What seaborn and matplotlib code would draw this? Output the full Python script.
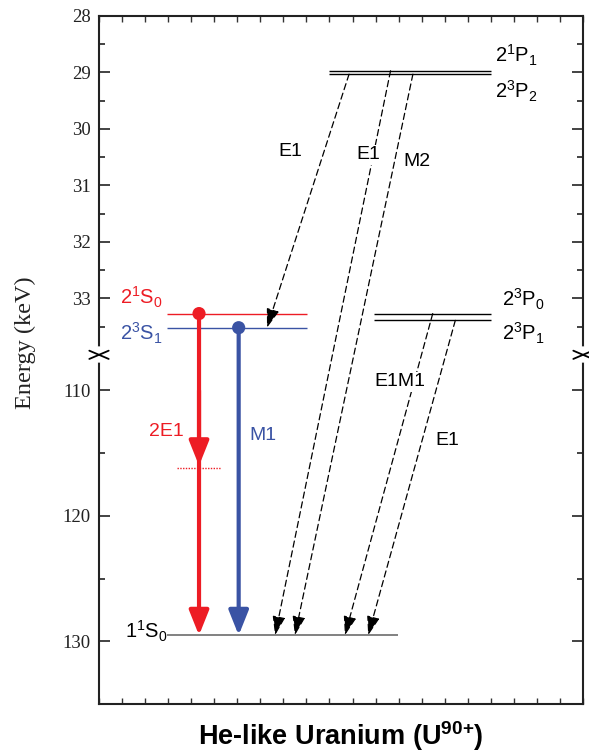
import numpy as np
import pandas as pd
import matplotlib
matplotlib.use("Agg")
import matplotlib.pyplot as plt
import seaborn as sns

# ---------------- data ----------------
level_names = ["1S0", "23S1", "21S0", "23P1", "23P0", "23P2", "21P1"]
level_labels = [r"1$^1$S$_0$", r"2$^3$S$_1$", r"2$^1$S$_0$", r"2$^3$P$_1$",
                r"2$^3$P$_0$", r"2$^3$P$_2$", r"2$^1$P$_1$"]
level_energy = [129.52, 33.52, 33.27, 33.39, 33.27, 29.03, 28.97]   # keV

trans_from = ["23P2", "21P1", "23P2", "23P0", "23P1"]
trans_to = ["23S1", "1S0", "1S0", "1S0", "1S0"]
trans_labels = ["E1", "E1", "M2", "E1M1", "E1"]

decay_from = ["21S0", "23S1"]
decay_labels = ["2E1", "M1"]
virtual_2e1 = 116.2

y_major = [28, 29, 30, 31, 32, 33, 110, 120, 130]
y_minor = [28.5, 29.5, 30.5, 31.5, 32.5, 33.5, 115, 125]

E = dict(zip(level_names, level_energy))
LBL = dict(zip(level_names, level_labels))

# ---------------- layout ----------------
RED = "#ED1C24"
BLUE = "#3A53A4"
level_x = {"1S0": (2.95, 12.97), "23S1": (2.95, 9.02), "21S0": (2.95, 9.02),
           "23P1": (11.93, 16.99), "23P0": (11.93, 16.99),
           "23P2": (9.98, 16.99), "21P1": (9.98, 16.99)}
level_col = {"1S0": "#777777", "23S1": BLUE, "21S0": RED,
             "23P1": "black", "23P0": "black", "23P2": "black", "21P1": "black"}
trans_x = [(10.85, 7.29), (12.65, 7.64), (13.62, 8.50), (14.48, 10.67), (15.46, 11.68)]
trans_lpos = [(8.29, 30.40), (11.67, 30.46), (13.80, 30.58), (13.06, 109.3), (15.10, 114.0)]
decay_x = [4.34, 6.06]
decay_col = [RED, BLUE]
decay_lpos = [(2.91, 113.3), (7.11, 113.6)]

# broken axis via a function scale
B1, B2, R, EPS = 34.0, 107.19, 0.2221, 1e-4
G = (B1 - 28) + (B2 - B1) * EPS


def fwd(y):
    y = np.asarray(y, float)
    return np.where(y <= B1, y - 28,
                    np.where(y >= B2, G + (y - B2) * R, (B1 - 28) + (y - B1) * EPS))


def inv(u):
    u = np.asarray(u, float)
    return np.where(u <= B1 - 28, u + 28,
                    np.where(u >= G, B2 + (u - G) / R, B1 + (u - (B1 - 28)) / EPS))


sns.set_theme(style="ticks")
plt.rcParams["font.family"] = ["Liberation Sans", "DejaVu Sans"]
plt.rcParams["mathtext.fontset"] = "custom"
plt.rcParams["mathtext.rm"] = "Liberation Sans"
plt.rcParams["mathtext.it"] = "Liberation Sans:italic"
plt.rcParams["mathtext.bf"] = "Liberation Sans:bold"
for k in ("text.color", "axes.labelcolor", "xtick.color", "ytick.color"):
    plt.rcParams[k] = "black"

fig = plt.figure(figsize=(5.89, 7.55), dpi=100)
ax = fig.add_axes([99 / 589, 1 - 704 / 755, 484 / 589, 688 / 755])
ax.set_yscale("function", functions=(fwd, inv))
ax.set_ylim(135, 28)
ax.set_xlim(0, 21)

# levels
for n in level_names:
    x0, x1 = level_x[n]
    lw = 1.3 if n in ("1S0",) else 1.0
    ax.hlines(E[n], x0, x1, color=level_col[n], lw=lw, zorder=2)

# red/blue decays
for n, x, c, lab, (lx, ly) in zip(decay_from, decay_x, decay_col, decay_labels, decay_lpos):
    ax.annotate("", xy=(x, E["1S0"]), xytext=(x, E[n]),
                arrowprops=dict(arrowstyle="-|>,head_length=0.75,head_width=0.3",
                                lw=3, color=c, shrinkA=0, shrinkB=0, mutation_scale=20),
                zorder=4)
    ax.text(lx, ly, lab, color=c, fontsize=14, ha="center", va="center")

# mid-arrow head and virtual level on 2E1
ax.annotate("", xy=(decay_x[0], virtual_2e1 - 0.2), xytext=(decay_x[0], 110),
            arrowprops=dict(arrowstyle="-|>,head_length=0.75,head_width=0.3",
                            lw=3, color=RED, shrinkA=0, shrinkB=0, mutation_scale=20),
            zorder=4)
ax.hlines(virtual_2e1, 3.38, 5.29, color=RED, lw=1, ls=(0, (1, 1)), zorder=3)

dots = pd.DataFrame({"x": decay_x, "E": [E[n] for n in decay_from], "lvl": decay_from})
sns.scatterplot(data=dots, x="x", y="E", hue="lvl", palette=decay_col, s=90,
                edgecolor="none", legend=False, ax=ax, zorder=5)

# dashed transitions
for f, t, (x0, x1), lab, (lx, ly) in zip(trans_from, trans_to, trans_x, trans_labels, trans_lpos):
    ax.annotate("", xy=(x1, E[t]), xytext=(x0, E[f]),
                arrowprops=dict(arrowstyle="-|>,head_length=0.9,head_width=0.3",
                                lw=0.9, ls=(0, (5, 3)), color="black",
                                shrinkA=0, shrinkB=0, mutation_scale=13),
                zorder=3)
    ax.text(lx, ly, lab, fontsize=14, ha="center", va="center", color="black",
            bbox=dict(facecolor="white", edgecolor="none", pad=1))

# level labels
ax.text(2.78, 32.98, LBL["21S0"], color=RED, fontsize=14.5, ha="right", va="center")
ax.text(2.78, 33.62, LBL["23S1"], color=BLUE, fontsize=14.5, ha="right", va="center")
ax.text(2.98, 129.2, LBL["1S0"], color="black", fontsize=14.5, ha="right", va="center")
ax.text(17.18, 28.69, LBL["21P1"], fontsize=14.5, ha="left", va="center")
ax.text(17.18, 29.33, LBL["23P2"], fontsize=14.5, ha="left", va="center")
ax.text(17.48, 33.02, LBL["23P0"], fontsize=14.5, ha="left", va="center")
ax.text(17.48, 33.62, LBL["23P1"], fontsize=14.5, ha="left", va="center")

# axes styling
ax.set_yticks(y_major)
ax.set_yticks(y_minor, minor=True)
ax.set_yticklabels([str(v) for v in y_major], family="Liberation Serif", fontsize=13.5)
ax.set_xticks(np.arange(0, 22, 1))
ax.set_xticklabels([])
ax.tick_params(axis="y", which="major", direction="in", length=8, width=1.2,
               left=True, right=True, pad=6, color="#222222", labelcolor="#222222")
ax.tick_params(axis="y", which="minor", direction="in", length=4.5, width=1.2,
               left=True, right=True, color="#222222")
ax.tick_params(axis="x", which="major", direction="in", length=4, width=1,
               top=True, bottom=True, color="#333333")
for s in ax.spines.values():
    s.set_linewidth(1.5)
    s.set_color("#222222")

ax.set_ylabel("Energy (keV)", family="Liberation Serif", fontsize=17.5, color="#222222")
ax.yaxis.set_label_coords(-0.13, 0.525)
ax.set_xlabel(r"He-like Uranium (U$^{\mathbf{90{+}}}$)", fontsize=19.5,
              fontweight="bold", color="black")
ax.xaxis.set_label_coords(0.5, -0.022)

# break markers
tot = float(fwd(135) - fwd(28))
fb = float(fwd(135) - fwd(B1 + 0.02)) / tot
for xs in (0, 1):
    ax.plot([xs, xs], [fb - 0.008, fb + 0.008], color="white", lw=4,
            transform=ax.transAxes, clip_on=False, zorder=10)
    ax.plot([xs - 0.02, xs + 0.02], [fb - 0.006, fb + 0.006], color="black", lw=1.3,
            transform=ax.transAxes, clip_on=False, zorder=11)
    ax.plot([xs - 0.02, xs + 0.02], [fb + 0.006, fb - 0.006], color="black", lw=1.3,
            transform=ax.transAxes, clip_on=False, zorder=11)

fig.savefig("out.png", dpi=100)
